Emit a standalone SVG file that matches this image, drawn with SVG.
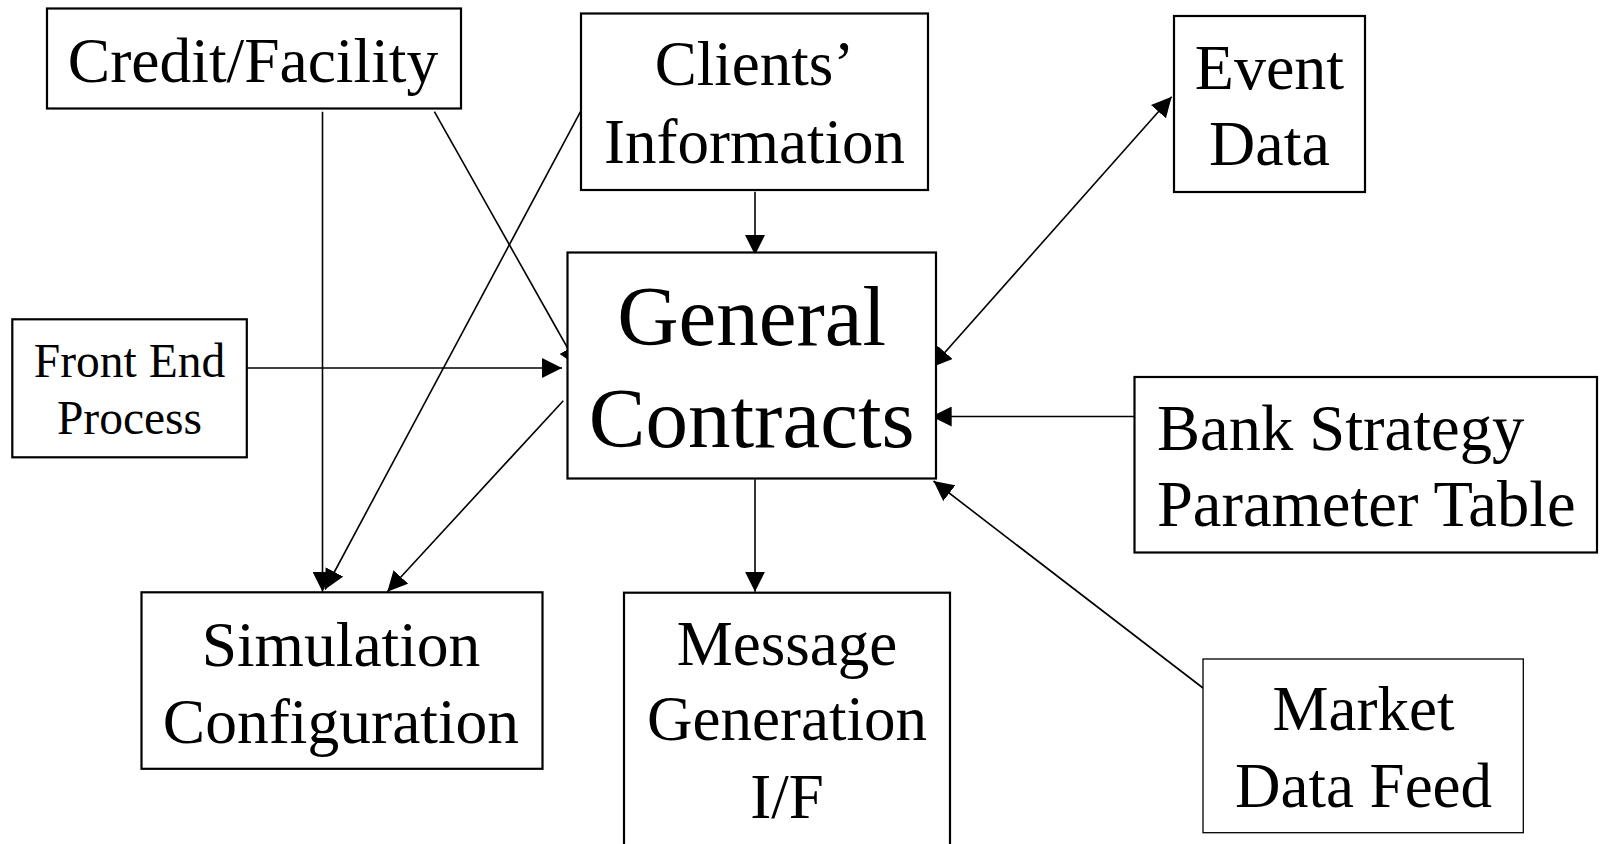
<svg xmlns="http://www.w3.org/2000/svg" width="1604" height="844" viewBox="0 0 1604 844">
  <style>
    .box { fill: #ffffff; stroke: #000000; stroke-width: 2.2; }
    .thin { stroke-width: 1.3; }
    .lbl { font-family: "Liberation Serif", "Times New Roman", serif; fill: #000000; text-anchor: middle; }
    .left { text-anchor: start; }
    .conn line { stroke: #000000; stroke-width: 1.6; fill: none; }
  </style>
  <defs>
    <marker id="ah" markerUnits="userSpaceOnUse" markerWidth="20" markerHeight="20" refX="20" refY="10" orient="auto-start-reverse">
      <path d="M0,0 L20,10 L0,20 Z" fill="#000000"/>
    </marker>
  </defs>
  <rect width="1604" height="844" fill="#ffffff"/>

  <g id="connectors" class="conn">
    <line x1="322.5" y1="111.7" x2="322.5" y2="591.7" marker-end="url(#ah)"/>
    <line x1="434.4" y1="111.7" x2="578" y2="366.5" marker-end="url(#ah)"/>
    <line x1="580.5" y1="111.7" x2="325" y2="589.5" marker-end="url(#ah)"/>
    <line x1="755" y1="191.7" x2="755" y2="255" marker-end="url(#ah)"/>
    <line x1="243" y1="368" x2="562" y2="368" marker-end="url(#ah)"/>
    <line x1="563.3" y1="400.7" x2="387.3" y2="591.7" marker-end="url(#ah)"/>
    <line x1="755" y1="479.3" x2="755" y2="591.7" marker-end="url(#ah)"/>
    <line x1="931.7" y1="367.3" x2="1171.7" y2="96.7" marker-start="url(#ah)" marker-end="url(#ah)"/>
    <line x1="1140" y1="416.5" x2="931.7" y2="416.5" marker-end="url(#ah)"/>
    <line x1="1203" y1="688" x2="933.5" y2="481" marker-end="url(#ah)"/>
  </g>

  <g id="credit-facility">
    <rect class="box" x="47" y="8.5" width="414" height="100"/>
    <text class="lbl" x="253" y="82" font-size="63.5">Credit/Facility</text>
  </g>

  <g id="clients-information">
    <rect class="box" x="581" y="13.5" width="347" height="176.5"/>
    <text class="lbl" x="754.5" y="84.5" font-size="63">Clients’</text>
    <text class="lbl" x="754.5" y="163" font-size="63">Information</text>
  </g>

  <g id="event-data">
    <rect class="box" x="1174" y="16" width="191" height="176"/>
    <text class="lbl" x="1269.5" y="89" font-size="64">Event</text>
    <text class="lbl" x="1269.5" y="165" font-size="64">Data</text>
  </g>

  <g id="front-end-process">
    <rect class="box" x="12.3" y="319.3" width="234.5" height="138"/>
    <text class="lbl" x="129.5" y="376.5" font-size="47.5">Front End</text>
    <text class="lbl" x="129.5" y="434" font-size="47.5">Process</text>
  </g>

  <g id="general-contracts">
    <rect class="box" x="567.5" y="252.5" width="368.5" height="226"/>
    <text class="lbl" x="751.7" y="345" font-size="85">General</text>
    <text class="lbl" x="751.7" y="446.7" font-size="85">Contracts</text>
  </g>

  <g id="bank-strategy">
    <rect class="box" x="1134.5" y="377" width="462.5" height="175.5"/>
    <text class="lbl left" x="1157" y="450" font-size="64.5">Bank Strategy</text>
    <text class="lbl left" x="1157" y="525.7" font-size="64.5">Parameter Table</text>
  </g>

  <g id="simulation-configuration">
    <rect class="box" x="141.5" y="592.3" width="401" height="176.5"/>
    <text class="lbl" x="341" y="666" font-size="63.5">Simulation</text>
    <text class="lbl" x="341" y="743.3" font-size="63.5">Configuration</text>
  </g>

  <g id="message-generation">
    <rect class="box" x="624" y="592.7" width="326" height="270"/>
    <text class="lbl" x="787" y="665" font-size="63">Message</text>
    <text class="lbl" x="787" y="740" font-size="63">Generation</text>
    <text class="lbl" x="787" y="818.3" font-size="63">I/F</text>
  </g>

  <g id="market-data-feed">
    <rect class="box thin" x="1203" y="659" width="320.3" height="173.7"/>
    <text class="lbl" x="1363.5" y="730" font-size="63">Market</text>
    <text class="lbl" x="1363.5" y="806.7" font-size="63">Data Feed</text>
  </g>
</svg>
